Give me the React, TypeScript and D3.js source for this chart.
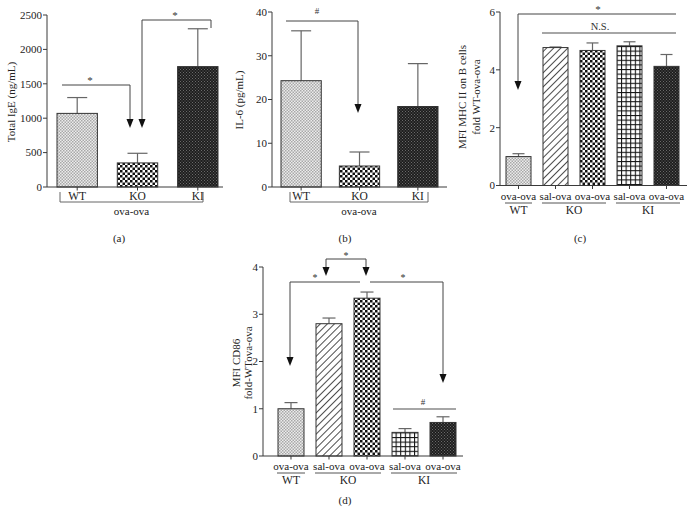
import React from "react";
import * as d3 from "d3";

// ---------- data ----------
const abCategories = ["WT", "KO", "KI"];
const abGroupLabel = "ova-ova";
const igeValues = [1070, 350, 1750];
const igeErrors = [230, 140, 550];
const igeTicks = [0, 500, 1000, 1500, 2000, 2500];
const il6Values = [24.3, 4.8, 18.4];
const il6Errors = [11.4, 3.2, 9.8];
const il6Ticks = [0, 10, 20, 30, 40];
const cdTreatments = ["ova-ova", "sal-ova", "ova-ova", "sal-ova", "ova-ova"];
const cdGenotypes = ["WT", "KO", "KO", "KI", "KI"];
const mhcValues = [1.0, 4.77, 4.67, 4.83, 4.12];
const mhcErrors = [0.1, 0.02, 0.26, 0.14, 0.41];
const mhcTicks = [0, 2, 4, 6];
const cd86Values = [1.0, 2.8, 3.34, 0.5, 0.71];
const cd86Errors = [0.13, 0.12, 0.13, 0.08, 0.12];
const cd86Ticks = [0, 1, 2, 3, 4];

const abFills = ["url(#pWT)", "url(#pChk)", "url(#pDark)"];
const cdFills = ["url(#pWT)", "url(#pDiag)", "url(#pChk)", "url(#pGrid)", "url(#pDark)"];

const FONT = "'Liberation Serif', 'DejaVu Serif', serif";
const AX = "#3a3a3a";
const SIG = "#444";
const ERR = "#666";

type Lin = d3.ScaleLinear<number, number>;
type Band = d3.ScaleBand<string>;

function Panel({
  axisX, xEnd, x, y, ticks, values, errors, fills, keys, capW,
}: {
  axisX: number; xEnd: number; x: Band; y: Lin; ticks: number[]; values: number[]; errors: number[];
  fills: string[]; keys: string[]; capW: number;
}) {
  const y0 = y(0);
  return (
    <g>
      {keys.map((k, i) => {
        const bx = x(k)!;
        const bw = x.bandwidth();
        const top = y(values[i]);
        const et = y(values[i] + errors[i]);
        const cx = bx + bw / 2;
        return (
          <g key={k}>
            <line x1={cx} x2={cx} y1={top} y2={et} stroke={ERR} strokeWidth={1.2} />
            <line x1={cx - capW / 2} x2={cx + capW / 2} y1={et} y2={et} stroke={ERR} strokeWidth={1.2} />
            <rect x={bx} y={top} width={bw} height={y0 - top} fill={fills[i]} stroke="#333" strokeWidth={1} />
            <line x1={cx} x2={cx} y1={y0} y2={y0 + 3.5} stroke={AX} strokeWidth={1} />
          </g>
        );
      })}
      <line x1={axisX} x2={axisX} y1={y(ticks[ticks.length - 1])} y2={y0} stroke={AX} strokeWidth={1} />
      <line x1={axisX} x2={xEnd} y1={y0} y2={y0} stroke={AX} strokeWidth={1} />
      {ticks.map((t) => (
        <g key={t}>
          <line x1={axisX - 4} x2={axisX} y1={y(t)} y2={y(t)} stroke={AX} strokeWidth={1} />
          <text x={axisX - 5} y={y(t)} dy="0.35em" textAnchor="end" fontSize={11} fill="#222">
            {t}
          </text>
        </g>
      ))}
    </g>
  );
}

function Arrow({ x, y1, tip, color = SIG }: { x: number; y1: number; tip: number; color?: string }) {
  return (
    <g>
      <line x1={x} x2={x} y1={y1} y2={tip - 8} stroke={color} strokeWidth={1} />
      <polygon points={`${x - 3.5},${tip - 9} ${x + 3.5},${tip - 9} ${x},${tip}`} fill="#111" />
    </g>
  );
}

export default function App() {
  const xa = d3.scaleBand<string>().domain(abCategories).range([57, 218]).paddingInner(0.33).paddingOuter(0);
  const ya = d3.scaleLinear().domain([0, 2500]).range([187, 15]);
  const xb = d3.scaleBand<string>().domain(abCategories).range([281, 438]).paddingInner(0.31).paddingOuter(0);
  const yb = d3.scaleLinear().domain([0, 40]).range([187, 12]);
  const cdKeys = cdTreatments.map((t, i) => cdGenotypes[i] + "-" + t);
  const xc = d3.scaleBand<string>().domain(cdKeys).range([506, 679]).paddingInner(0.324).paddingOuter(0);
  const yc = d3.scaleLinear().domain([0, 6]).range([185.5, 12]);
  const xd = d3.scaleBand<string>().domain(cdKeys).range([278, 456]).paddingInner(0.316).paddingOuter(0);
  const yd = d3.scaleLinear().domain([0, 4]).range([456, 267]);

  const cx = (s: Band, k: string) => s(k)! + s.bandwidth() / 2;

  const groupSpans = (s: Band) => {
    const out: { g: string; a: number; b: number }[] = [];
    cdKeys.forEach((k, i) => {
      const g = cdGenotypes[i];
      const a = s(k)!;
      const b = a + s.bandwidth();
      const last = out[out.length - 1];
      if (last && last.g === g) last.b = b;
      else out.push({ g, a, b });
    });
    return out;
  };

  const bracketAB = (s: Band, left: number, right: number) => (
    <g>
      {abCategories.map((c) => (
        <text key={c} x={cx(s, c)} y={200} textAnchor="middle" fontSize={11.5} fill="#222">{c}</text>
      ))}
      <path d={`M${left},192V202H${right}V192`} fill="none" stroke="#666" strokeWidth={1} />
      <text x={(left + right) / 2} y={215} textAnchor="middle" fontSize={11} fill="#222">{abGroupLabel}</text>
    </g>
  );

  const labelsCD = (s: Band, rowY: number, lineY: number, grpY: number) => (
    <g>
      {cdKeys.map((k, i) => (
        <text key={k} x={cx(s, k)} y={rowY} textAnchor="middle" fontSize={11} fill="#222">{cdTreatments[i]}</text>
      ))}
      {groupSpans(s).map((g) => (
        <g key={g.g}>
          <line x1={g.a - 1} x2={g.b + 1} y1={lineY} y2={lineY} stroke="#555" strokeWidth={1} />
          <text x={(g.a + g.b) / 2} y={grpY} textAnchor="middle" fontSize={11.5} fill="#222">{g.g}</text>
        </g>
      ))}
    </g>
  );

  return (
    <svg width={692} height={524} style={{ position: "absolute", left: 0, top: 0, fontFamily: FONT }}>
      <defs>
        <pattern id="pWT" width={3} height={3} patternUnits="userSpaceOnUse">
          <rect width={3} height={3} fill="#ececec" />
          <rect x={0} y={0} width={1.5} height={1.5} fill="#a8a8a8" />
          <rect x={1.5} y={1.5} width={1.5} height={1.5} fill="#a8a8a8" />
        </pattern>
        <pattern id="pChk" width={5} height={5} patternUnits="userSpaceOnUse">
          <rect width={5} height={5} fill="#fff" />
          <rect x={0} y={0} width={2.5} height={2.5} fill="#111" />
          <rect x={2.5} y={2.5} width={2.5} height={2.5} fill="#111" />
        </pattern>
        <pattern id="pDark" width={3} height={3} patternUnits="userSpaceOnUse">
          <rect width={3} height={3} fill="#1e1e1e" />
          <rect x={0} y={0} width={1} height={1} fill="#6a6a6a" />
          <rect x={1.5} y={1.5} width={1} height={1} fill="#6a6a6a" />
        </pattern>
        <pattern id="pDiag" width={5} height={5} patternUnits="userSpaceOnUse" patternTransform="rotate(45)">
          <rect width={5} height={5} fill="#fff" />
          <line x1={0} x2={0} y1={0} y2={5} stroke="#111" strokeWidth={1.5} />
        </pattern>
        <pattern id="pGrid" width={4.6} height={4.6} patternUnits="userSpaceOnUse">
          <rect width={4.6} height={4.6} fill="#fff" />
          <line x1={0.5} x2={0.5} y1={0} y2={4.6} stroke="#111" strokeWidth={1.1} />
          <line x1={0} x2={4.6} y1={0.5} y2={0.5} stroke="#111" strokeWidth={1.1} />
        </pattern>
      </defs>

      {/* ===== (a) ===== */}
      <Panel axisX={47} xEnd={223} x={xa} y={ya} ticks={igeTicks} values={igeValues} errors={igeErrors}
        fills={abFills} keys={abCategories} capW={20} />
      {bracketAB(xa, 60, 203)}
      <text transform="translate(15,102) rotate(-90)" textAnchor="middle" fontSize={11} fill="#222">Total IgE (ng/mL)</text>
      <path d={`M62,85H130`} stroke={SIG} fill="none" />
      <Arrow x={130} y1={85} tip={128} />
      <text x={90} y={84} textAnchor="middle" fontSize={11} fill="#333">*</text>
      <path d={`M142,20H211V28`} stroke={SIG} fill="none" />
      <Arrow x={142} y1={20} tip={128} />
      <text x={175} y={19} textAnchor="middle" fontSize={11} fill="#333">*</text>
      <text x={119} y={242} textAnchor="middle" fontSize={11} fill="#222">(a)</text>

      {/* ===== (b) ===== */}
      <Panel axisX={272} xEnd={447} x={xb} y={yb} ticks={il6Ticks} values={il6Values} errors={il6Errors}
        fills={abFills} keys={abCategories} capW={20} />
      {bracketAB(xb, 290, 428)}
      <text transform="translate(243,100) rotate(-90)" textAnchor="middle" fontSize={11} fill="#222">IL-6 (pg/mL)</text>
      <path d={`M286,21H358`} stroke={SIG} fill="none" />
      <Arrow x={358} y1={21} tip={113} />
      <text x={317} y={14} textAnchor="middle" fontSize={9} fill="#333">#</text>
      <text x={345} y={242} textAnchor="middle" fontSize={11} fill="#222">(b)</text>

      {/* ===== (c) ===== */}
      <Panel axisX={500} xEnd={687} x={xc} y={yc} ticks={mhcTicks} values={mhcValues} errors={mhcErrors}
        fills={cdFills} keys={cdKeys} capW={12} />
      {labelsCD(xc, 200, 203, 214)}
      <text transform="translate(466,97) rotate(-90)" textAnchor="middle" fontSize={11} fill="#222">MFI MHC II on B cells</text>
      <text transform="translate(480,97) rotate(-90)" textAnchor="middle" fontSize={11} fill="#222">fold WT-ova-ova</text>
      <path d={`M518,14H676`} stroke={SIG} fill="none" />
      <Arrow x={518} y1={14} tip={90} />
      <text x={598} y={13} textAnchor="middle" fontSize={11} fill="#333">*</text>
      <path d={`M542,33H676`} stroke="#888" strokeWidth={1.3} fill="none" />
      <text x={600} y={30} textAnchor="middle" fontSize={10.5} fill="#333">N.S.</text>
      <text x={580} y={242} textAnchor="middle" fontSize={11} fill="#222">(c)</text>

      {/* ===== (d) ===== */}
      <Panel axisX={263} xEnd={463} x={xd} y={yd} ticks={cd86Ticks} values={cd86Values} errors={cd86Errors}
        fills={cdFills} keys={cdKeys} capW={13} />
      {labelsCD(xd, 470, 473, 484)}
      <text transform="translate(240,363) rotate(-90)" textAnchor="middle" fontSize={11} fill="#222">MFI CD86</text>
      <text transform="translate(252,363) rotate(-90)" textAnchor="middle" fontSize={11} fill="#222">fold-WTova-ova</text>
      <path d={`M326,259H366`} stroke={SIG} fill="none" />
      <Arrow x={326} y1={259} tip={276} />
      <Arrow x={366} y1={259} tip={276} />
      <text x={346} y={259} textAnchor="middle" fontSize={10} fill="#333">*</text>
      <path d={`M290,282H360M370,282H443`} stroke={SIG} fill="none" />
      <Arrow x={290} y1={282} tip={366} />
      <Arrow x={443} y1={282} tip={383} />
      <text x={315} y={281} textAnchor="middle" fontSize={10} fill="#333">*</text>
      <text x={403} y={281} textAnchor="middle" fontSize={10} fill="#333">*</text>
      <path d={`M393,409H456`} stroke="#888" strokeWidth={1.3} fill="none" />
      <text x={423} y={405} textAnchor="middle" fontSize={9} fill="#333">#</text>
      <text x={345} y={504} textAnchor="middle" fontSize={11} fill="#222">(d)</text>
    </svg>
  );
}
